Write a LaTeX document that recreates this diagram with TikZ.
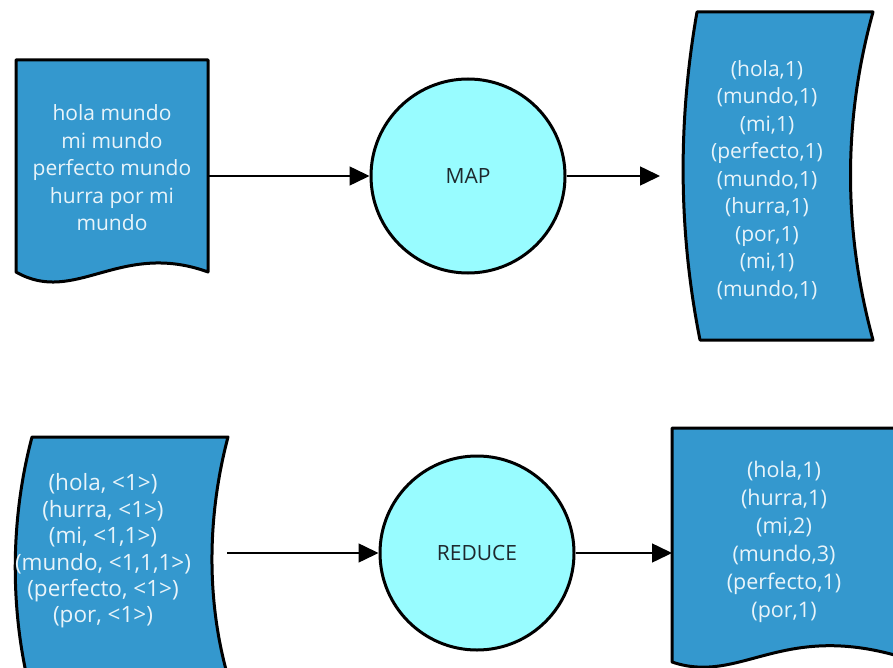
\documentclass[tikz,border=0pt]{standalone}
\usepackage{fontspec}
\setmainfont{Open Sans}
\usetikzlibrary{arrows.meta}

\definecolor{boxblue}{RGB}{52,152,206}
\definecolor{proccyan}{RGB}{152,252,255}
\definecolor{boxtext}{RGB}{232,244,250}
\definecolor{proctext}{RGB}{30,40,45}

\tikzset{
  shapeline/.style={draw=black, line width=3pt, fill=boxblue, line join=round},
  datatext/.style={text=boxtext, align=center, inner sep=0pt,
    font=\fontsize{21}{27.5}\selectfont},
  process/.style={circle, draw=black, line width=3pt, fill=proccyan,
    minimum size=194pt, inner sep=0pt, text=proctext,
    font=\fontsize{21}{25}\selectfont},
  conn/.style={line width=1.5pt, -{Triangle[length=20pt,width=19pt]}},
}

\begin{document}
\begin{tikzpicture}[x=1pt, y=-1pt]
  \clip (0,0) rectangle (893,668);
  \fill[white] (0,0) rectangle (893,668);

  % input document (wavy bottom)
  \draw[shapeline] (16,60) -- (208,60) -- (208,272)
    .. controls (120,240) and (75,306) .. (16,272) -- cycle;
  \node[datatext] (input) at (112,168)
    {hola mundo\\mi mundo\\perfecto mundo\\hurra por mi\\mundo};

  % map output (bent sheet)
  \draw[shapeline] (697,12) -- (873,12)
    .. controls (843,120) and (843,230) .. (873,340) -- (700,340)
    .. controls (678,230) and (678,120) .. (697,12) -- cycle;
  \node[datatext] (mapout) at (767,180)
    {(hola,1)\\(mundo,1)\\(mi,1)\\(perfecto,1)\\(mundo,1)\\(hurra,1)\\(por,1)\\(mi,1)\\(mundo,1)};

  % grouped pairs (bent sheet)
  \draw[shapeline] (32,437) -- (228,437)
    .. controls (206,520) and (206,610) .. (232,690) -- (30,690)
    .. controls (10,610) and (10,520) .. (32,437) -- cycle;
  \node[datatext, font=\fontsize{22.5}{26.4}\selectfont] (grouped) at (103,551)
    {(hola, <1>)\\(hurra, <1>)\\(mi, <1,1>)\\(mundo, <1,1,1>)\\(perfecto, <1>)\\(por, <1>)};

  % result document (wavy bottom)
  \draw[shapeline] (672,428) -- (898,428) -- (898,656)
    .. controls (780,622) and (740,685) .. (672,662) -- cycle;
  \node[datatext, font=\fontsize{21.5}{28}\selectfont] (result) at (784,542)
    {(hola,1)\\(hurra,1)\\(mi,2)\\(mundo,3)\\(perfecto,1)\\(por,1)};

  % processes
  \node[process] (map) at (468,176) {MAP};
  \node[process] (reduce) at (477,553) {REDUCE};

  % connector ends
  \coordinate (inputout) at (208,176);
  \coordinate (mapoutin) at (660,176);
  \coordinate (groupedout) at (227,553);
  \coordinate (resultin) at (672,553);

  \draw[conn] (inputout) -- (map.west);
  \draw[conn] (map.east) -- (mapoutin);
  \draw[conn] (groupedout) -- (reduce.west);
  \draw[conn] (reduce.east) -- (resultin);
\end{tikzpicture}
\end{document}
